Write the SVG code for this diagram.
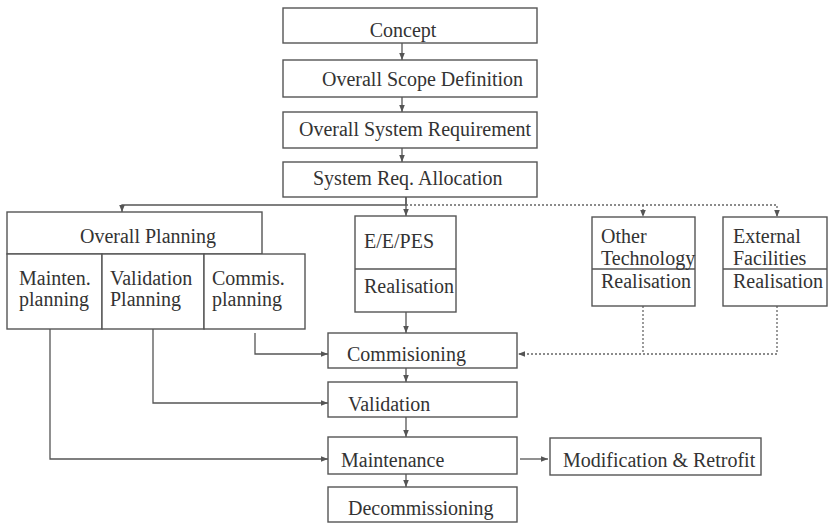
<svg xmlns="http://www.w3.org/2000/svg" width="828" height="523" viewBox="0 0 828 523">
<style>
.b{fill:#fff;stroke:#555;stroke-width:1.4}
.d{stroke:#555;stroke-width:1.3}
text{font-family:"Liberation Serif","Times New Roman",serif;font-size:20px;fill:#333}
.c{fill:none;stroke:#555;stroke-width:1.3}
.dot{fill:none;stroke:#666;stroke-width:1.3;stroke-dasharray:2 2}
</style>
<defs>
<marker id="a" viewBox="0 0 10 10" refX="10" refY="5" markerWidth="7" markerHeight="7" orient="auto" markerUnits="userSpaceOnUse"><path d="M0,1 L10,5 L0,9 z" fill="#555"/></marker>
</defs>
<rect width="828" height="523" fill="#fff"/>
<g id="connectors">
<path class="c" d="M402,43 V60" marker-end="url(#a)"/>
<path class="c" d="M402,97 V112" marker-end="url(#a)"/>
<path class="c" d="M402,148 V162" marker-end="url(#a)"/>
<path class="c" d="M406,197 V205 H122 V212" marker-end="url(#a)"/>
<path class="c" d="M406,197 V216" marker-end="url(#a)"/>
<path class="dot" d="M406,205 H777 V217" marker-end="url(#a)"/>
<path class="dot" d="M643,205 V217" marker-end="url(#a)"/>
<path class="c" d="M406,312 V333" marker-end="url(#a)"/>
<path class="c" d="M406,368 V382" marker-end="url(#a)"/>
<path class="c" d="M406,417 V437" marker-end="url(#a)"/>
<path class="c" d="M406,474 V487" marker-end="url(#a)"/>
<path class="c" d="M255,333 V354 H328" marker-end="url(#a)"/>
<path class="c" d="M153,329 V403 H328" marker-end="url(#a)"/>
<path class="c" d="M50,329 V459 H328" marker-end="url(#a)"/>
<path class="c" d="M520,459 H548" marker-end="url(#a)"/>
<path class="dot" d="M643,306 V354"/>
<path class="dot" d="M777,306 V354 H518" marker-end="url(#a)"/>
</g>
<g id="concept"><rect class="b" x="283" y="8" width="254" height="35"/><text x="403" y="37" text-anchor="middle">Concept</text></g>
<g id="scope"><rect class="b" x="283" y="60" width="254" height="37"/><text x="322" y="86">Overall Scope Definition</text></g>
<g id="sysreq"><rect class="b" x="283" y="112" width="254" height="36"/><text x="299" y="136">Overall System Requirement</text></g>
<g id="alloc"><rect class="b" x="283" y="162" width="254" height="35"/><text x="313" y="185">System Req. Allocation</text></g>
<g id="planning"><rect class="b" x="7" y="212" width="255" height="42"/><text x="80" y="243">Overall Planning</text></g>
<g id="mainten"><rect class="b" x="7" y="254" width="95" height="75"/><text x="19" y="285">Mainten.</text><text x="19" y="306">planning</text></g>
<g id="valplan"><rect class="b" x="102" y="254" width="102" height="75"/><text x="110" y="285">Validation</text><text x="110" y="306">Planning</text></g>
<g id="complan"><rect class="b" x="204" y="254" width="101" height="75"/><text x="212" y="285">Commis.</text><text x="212" y="306">planning</text></g>
<g id="eepes"><rect class="b" x="355" y="216" width="101" height="96"/><line class="d" x1="355" y1="269" x2="456" y2="269"/><text x="364" y="248">E/E/PES</text><text x="364" y="293">Realisation</text></g>
<g id="othertech"><rect class="b" x="592" y="217" width="103" height="89"/><line class="d" x1="592" y1="269" x2="695" y2="269"/><text x="601" y="243">Other</text><text x="601" y="265">Technology</text><text x="601" y="288">Realisation</text></g>
<g id="external"><rect class="b" x="723" y="217" width="104" height="89"/><line class="d" x1="723" y1="269" x2="827" y2="269"/><text x="733" y="243">External</text><text x="733" y="265">Facilities</text><text x="733" y="288">Realisation</text></g>
<g id="commissioning"><rect class="b" x="328" y="333" width="189" height="35"/><text x="347" y="361">Commisioning</text></g>
<g id="validation"><rect class="b" x="328" y="382" width="189" height="35"/><text x="348" y="411">Validation</text></g>
<g id="maintenance"><rect class="b" x="328" y="437" width="189" height="37"/><text x="341" y="467">Maintenance</text></g>
<g id="modification"><rect class="b" x="550" y="438" width="211" height="37"/><text x="563" y="467">Modification &amp; Retrofit</text></g>
<g id="decommissioning"><rect class="b" x="328" y="487" width="189" height="35"/><text x="348" y="515">Decommissioning</text></g>
</svg>
